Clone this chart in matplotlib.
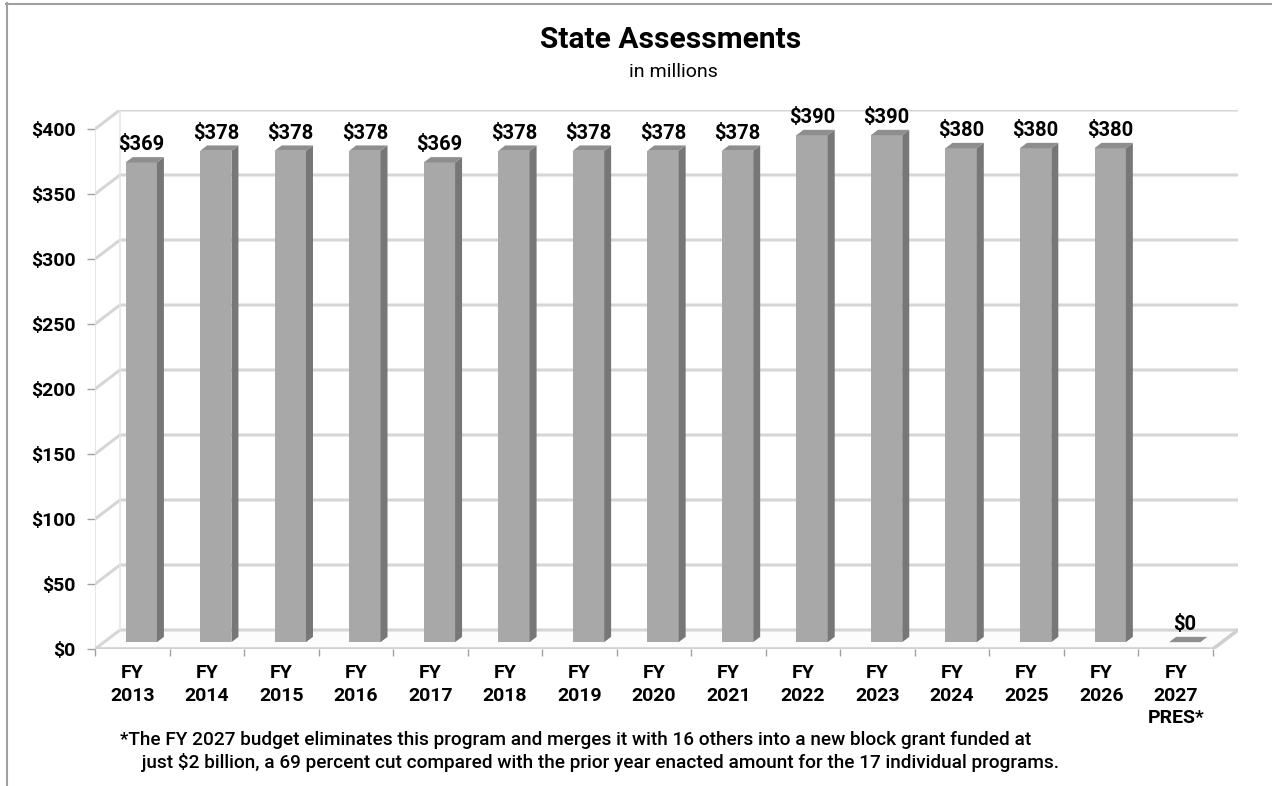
import matplotlib
matplotlib.use("Agg")
import matplotlib.pyplot as plt
from matplotlib.patches import Polygon, Rectangle
from matplotlib.lines import Line2D

# ---- data -------------------------------------------------------------
years = ["FY\n2013", "FY\n2014", "FY\n2015", "FY\n2016", "FY\n2017", "FY\n2018",
         "FY\n2019", "FY\n2020", "FY\n2021", "FY\n2022", "FY\n2023", "FY\n2024",
         "FY\n2025", "FY\n2026", "FY\n2027\nPRES*"]
funding = [369, 378, 378, 378, 369, 378, 378, 378, 378, 390, 390, 380, 380, 380, 0]
y_ticks = [0, 50, 100, 150, 200, 250, 300, 350, 400]

title = "State Assessments"
subtitle = "in millions"
note_lines = [
    "*The FY 2027 budget eliminates this program and merges it with 16 others into a new block grant funded at",
    " just $2 billion, a 69 percent cut compared with the prior year enacted amount for the 17 individual programs.",
]

plt.rcParams["font.family"] = ["Roboto", "DejaVu Sans"]

W_PX, H_PX = 1272, 786
fig = plt.figure(figsize=(W_PX / 100, H_PX / 100), dpi=100)
fig.patch.set_facecolor("white")

# ---- pseudo-3D geometry (category / value units) ----------------------
n = len(funding)
YMAX = 400
DX = 25 / 74.53          # depth offset along x (categories)
DY = 19 / 1.30           # depth offset along y (value units)
BAR_W = 0.42
F0 = 0.36                # depth position of bar front face
FD = 0.28                # bar depth

ax = fig.add_axes([95 / W_PX, (H_PX - 649) / H_PX, 1143 / W_PX, 539 / H_PX])
ax.set_xlim(-0.5, n - 0.5 + DX)
ax.set_ylim(0, YMAX + DY)
for s in ax.spines.values():
    s.set_visible(False)
ax.patch.set_alpha(0)

x0, x1 = -0.5, n - 0.5
grid_c = "#d6d6d6"

# floor
ax.add_patch(Polygon([(x0, 0), (x1, 0), (x1 + DX, DY), (x0 + DX, DY)],
                     closed=True, facecolor="#fcfcfc", edgecolor="none", zorder=1))
# grid lines on back wall and left side wall
for v in y_ticks:
    ax.add_line(Line2D([x0, x0 + DX, x1 + DX], [v, v + DY, v + DY],
                       color=grid_c, lw=2.2, zorder=2, solid_capstyle="butt"))
# wall and floor edges
ax.add_line(Line2D([x0, x0], [0, YMAX], color="#e0e0e0", lw=1.2, zorder=2))
ax.add_line(Line2D([x0 + DX, x0 + DX], [DY, YMAX + DY], color="#e6e6e6", lw=1.2, zorder=2))
ax.add_line(Line2D([x0, x1, x1 + DX], [0, 0, DY], color="#d0d0d0", lw=2.6, zorder=3,
                   solid_capstyle="butt"))

# bars
front_c, side_c, top_c = "#a8a8a8", "#777777", "#8e8e8e"
for i, v in enumerate(funding):
    b0 = i - BAR_W / 2 + F0 * DX
    b1 = i + BAR_W / 2 + F0 * DX
    yb = F0 * DY
    ddx, ddy = FD * DX, FD * DY
    if v > 0:
        ax.add_patch(Rectangle((b0, yb), b1 - b0, v, facecolor=front_c,
                               edgecolor="none", zorder=5))
        ax.add_patch(Polygon([(b1, yb), (b1 + ddx, yb + ddy), (b1 + ddx, yb + ddy + v),
                              (b1, yb + v)], closed=True, facecolor=side_c,
                             edgecolor="none", zorder=5))
    ax.add_patch(Polygon([(b0, yb + v), (b1, yb + v), (b1 + ddx, yb + ddy + v),
                          (b0 + ddx, yb + ddy + v)], closed=True, facecolor=top_c,
                         edgecolor="none", zorder=5))
    ax.annotate(f"${v}", xy=((b0 + b1) / 2, v + yb + ddy), xytext=(0, 2),
                textcoords="offset points", ha="center", va="bottom",
                fontsize=14.5, fontweight="bold", color="black", zorder=6)

# axes ticks and labels
ax.set_yticks(y_ticks)
ax.set_yticklabels([f"${t}" for t in y_ticks], fontsize=14, fontweight="bold")
ax.tick_params(axis="y", length=6, width=1, color="#a0a0a0", pad=8)
ax.set_xticks(range(n))
ax.set_xticklabels(years, fontsize=14, fontweight="bold", linespacing=1.32)
ax.set_xticks([k - 0.5 for k in range(n + 1)], minor=True)
ax.tick_params(axis="x", which="major", length=0, pad=11)
ax.tick_params(axis="x", which="minor", length=5, width=1, color="#a0a0a0")

# titles and footnote
fig.text(671 / W_PX, 1 - 40 / H_PX, title, ha="center", va="center",
         fontsize=21.5, fontweight="bold")
fig.text(673 / W_PX, 1 - 72 / H_PX, subtitle, ha="center", va="center", fontsize=14)
fig.text(576 / W_PX, 1 - 740 / H_PX, note_lines[0], ha="center", va="center",
         fontsize=13.7, fontweight="medium")
fig.text(598 / W_PX, 1 - 763 / H_PX, note_lines[1], ha="center", va="center",
         fontsize=13.7, fontweight="medium")

# outer frame
fig.add_artist(Line2D([6 / W_PX, 1], [1 - 3.5 / H_PX, 1 - 3.5 / H_PX],
                      transform=fig.transFigure, color="#a0a0a0", lw=1.5))
fig.add_artist(Line2D([6.5 / W_PX, 6.5 / W_PX], [0, 1 - 3 / H_PX],
                      transform=fig.transFigure, color="#a0a0a0", lw=1.5))

fig.savefig("out.png", dpi=100)
